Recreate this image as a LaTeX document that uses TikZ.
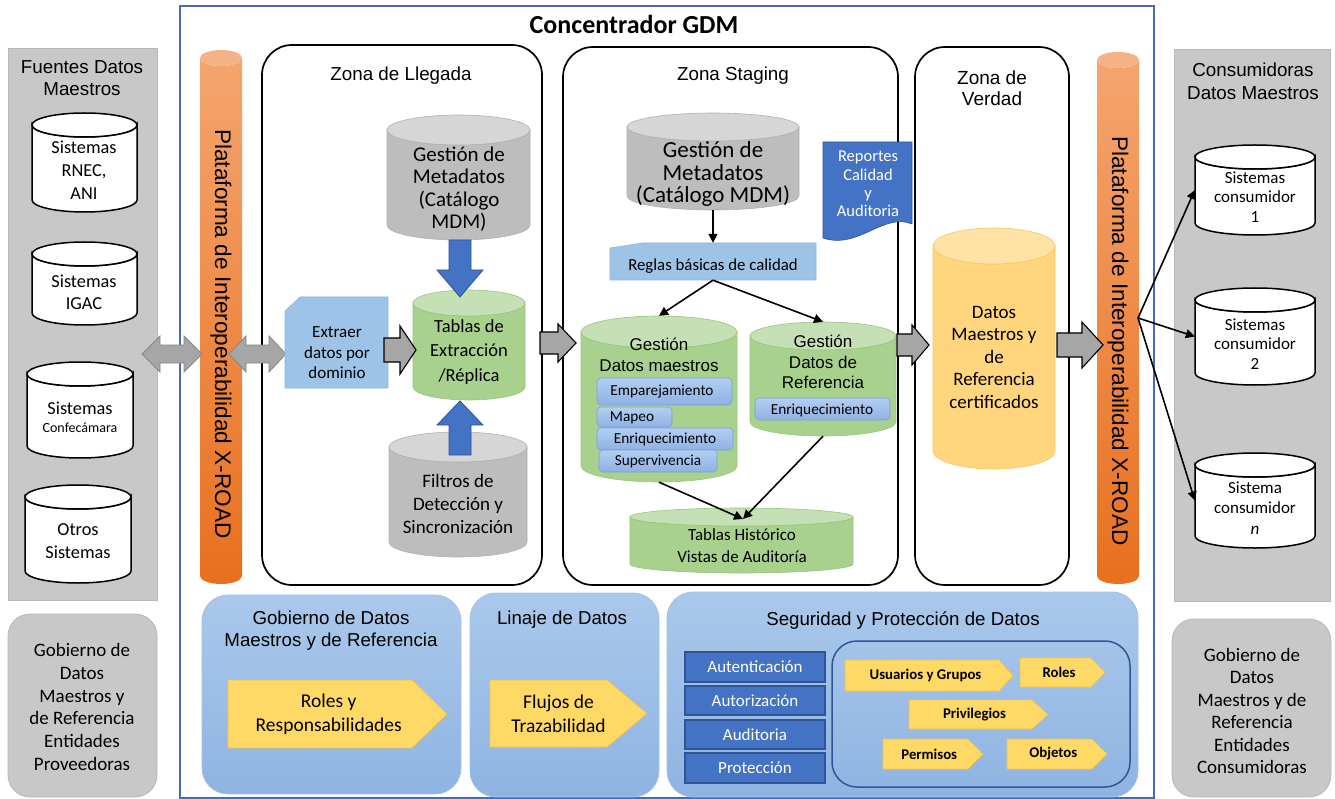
\documentclass[tikz,border=0pt]{standalone}
\usepackage{fontspec}
\setmainfont{Carlito}
\newfontfamily\arialf{Liberation Sans}
\usetikzlibrary{arrows.meta,fit}

\definecolor{panelgray}{HTML}{C8C8C8}
\definecolor{panelline}{HTML}{B8B8B8}
\definecolor{frameblue}{HTML}{4A6BAF}
\definecolor{cylgray}{HTML}{BDBDBD}
\definecolor{cylgraytop}{HTML}{D6D6D6}
\definecolor{cylgrayline}{HTML}{B0B0B0}
\definecolor{cylgreen}{HTML}{A9D18E}
\definecolor{cylgreentop}{HTML}{C6E0B5}
\definecolor{cylgreenline}{HTML}{98C47C}
\definecolor{cylyel}{HTML}{FFD57E}
\definecolor{cylyeltop}{HTML}{FFE3A6}
\definecolor{cylyelline}{HTML}{F4C865}
\definecolor{orgtop}{HTML}{F4A56E}
\definecolor{orgbot}{HTML}{E8701F}
\definecolor{orglid}{HTML}{F6B287}
\definecolor{lblue}{HTML}{9DC3E6}
\definecolor{lblueline}{HTML}{8EB7DE}
\definecolor{paneltop}{HTML}{AAC8EB}
\definecolor{panelbot}{HTML}{8FB4E2}
\definecolor{panelline2}{HTML}{A3C1E7}
\definecolor{dblue}{HTML}{4472C4}
\definecolor{dblueline}{HTML}{2F5597}
\definecolor{tagfill}{HTML}{FFD966}
\definecolor{tagline}{HTML}{F2C24F}
\definecolor{chiptop}{HTML}{B3CEF1}
\definecolor{chipbot}{HTML}{8EB2E4}
\definecolor{chipline}{HTML}{7C9FD3}
\definecolor{arrgray}{HTML}{A6A6A6}
\definecolor{arrgrayline}{HTML}{858585}

\newcommand\fs[2]{\fontsize{#1}{#2}\selectfont}

% cylinder: name, x1, top, x2, bottom, lid half-height, body style, lid style
\newcommand\Cyl[8]{%
  \pgfmathsetmacro\cylcx{(#2+#4)/2}%
  \pgfmathsetmacro\cylrx{(#4-#2)/2}%
  \pgfmathsetmacro\cylyt{#3+#6}%
  \pgfmathsetmacro\cylyb{#5-#6}%
  \path[#7] (#2,\cylyt) -- (#2,\cylyb)
     arc[start angle=180,end angle=0,x radius=\cylrx,y radius=#6]
     -- (#4,\cylyt)
     arc[start angle=0,end angle=180,x radius=\cylrx,y radius=#6] -- cycle;
  \path[#8] (\cylcx,\cylyt) ellipse[x radius=\cylrx,y radius=#6];
  \node[fit={(#2,#3) (#4,#5)},inner sep=0pt] (#1) {};
}
% rectangle with cut top-left corner: name, x1, y1, x2, y2, cut dx, cut dy
\newcommand\Snip[7]{%
  \path[snipbox] (#2,{#3+#7}) -- ({#2+#6},#3) -- (#4,#3) -- (#4,#5) -- (#2,#5) -- cycle;
  \node[fit={(#2,#3) (#4,#5)},inner sep=0pt] (#1) {};
}
% pentagon tag: name, x1, y1, x2, y2, tip depth, font, text
\newcommand\Tag[8]{%
  \path[tagshape] (#2,#3) -- ({#4-#6},#3) -- (#4,{(#3+#5)/2}) -- ({#4-#6},#5) -- (#2,#5) -- cycle;
  \node[txt,font={#7}] (#1) at ({(#2+#4-#6/2)/2},{(#3+#5)/2}) {#8};
}
% block arrow to the right: x1, x2, yc, shaft half, head half, head length, style
\newcommand\RArrow[7]{%
  \path[#7] (#1,{#3-#4}) -- ({#2-#6},{#3-#4}) -- ({#2-#6},{#3-#5}) -- (#2,#3)
    -- ({#2-#6},{#3+#5}) -- ({#2-#6},{#3+#4}) -- (#1,{#3+#4}) -- cycle;
}
% double-headed block arrow
\newcommand\LRArrow[7]{%
  \path[#7] (#1,#3) -- ({#1+#6},{#3-#5}) -- ({#1+#6},{#3-#4}) -- ({#2-#6},{#3-#4})
    -- ({#2-#6},{#3-#5}) -- (#2,#3) -- ({#2-#6},{#3+#5}) -- ({#2-#6},{#3+#4})
    -- ({#1+#6},{#3+#4}) -- ({#1+#6},{#3+#5}) -- cycle;
}
% block arrow downwards (tip at y2): xc, y1, y2, shaft half, head half, head length, style
\newcommand\DArrow[7]{%
  \path[#7] ({#1-#4},#2) -- ({#1+#4},#2) -- ({#1+#4},{#3-#6}) -- ({#1+#5},{#3-#6})
    -- (#1,#3) -- ({#1-#5},{#3-#6}) -- ({#1-#4},{#3-#6}) -- cycle;
}
% block arrow upwards (tip at y1)
\newcommand\UArrow[7]{%
  \path[#7] ({#1-#4},#3) -- ({#1+#4},#3) -- ({#1+#4},{#2+#6}) -- ({#1+#5},{#2+#6})
    -- (#1,#2) -- ({#1-#5},{#2+#6}) -- ({#1-#4},{#2+#6}) -- cycle;
}

\begin{document}
\begin{tikzpicture}[x=1pt,y=-1pt,
  txt/.style={inner sep=0pt,align=center},
  zone/.style={draw=black,line width=1.7pt,rounded corners=30pt,fill=white,inner sep=0pt},
  graypanel/.style={fill=panelgray,draw=panelline,line width=0.8pt,inner sep=0pt},
  bluepanel/.style={top color=paneltop,bottom color=panelbot,draw=panelline2,line width=0.8pt,rounded corners=26pt,inner sep=0pt},
  srccyl/.style={fill=white,draw=black,line width=1.5pt},
  graycyl/.style={fill=cylgray,draw=cylgrayline,line width=0.6pt},
  graylid/.style={fill=cylgraytop,draw=cylgrayline,line width=0.6pt},
  greencyl/.style={fill=cylgreen,draw=cylgreenline,line width=0.6pt},
  greenlid/.style={fill=cylgreentop,draw=cylgreenline,line width=0.6pt},
  snipbox/.style={fill=lblue,draw=lblueline,line width=0.6pt},
  tagshape/.style={fill=tagfill,draw=tagline,line width=0.8pt},
  chip/.style={top color=chiptop,bottom color=chipbot,draw=chipline,line width=0.6pt,rounded corners=4pt,inner sep=0pt},
  secbox/.style={fill=dblue,draw=dblueline,line width=1.2pt,inner sep=0pt},
  grayarrow/.style={fill=arrgray,draw=arrgrayline,line width=0.8pt},
  blkarrow/.style={fill=arrgray,draw=black,line width=1.1pt,line join=miter},
  bluearrow/.style={fill=dblue,draw=dblueline,line width=0.8pt},
  conn/.style={-{Triangle[length=9pt,width=9pt]},line width=1.6pt}]

\useasboundingbox (0,0) rectangle (1335,799);
\fill[white] (0,0) rectangle (1335,799);

% ---------- outer frame of the hub ----------
\node[draw=frameblue,line width=1.6pt,fit={(180,6) (1154,798)},inner sep=0pt] (hub) {};
\node[txt,font=\bfseries\fs{26}{30}] (hubtitle) at (634,24) {Concentrador GDM};

% ---------- source side ----------
\node[graypanel,fit={(8,48) (157,600)}] (fuentes) {};
\node[txt,font=\arialf\fs{18.8}{22}] (fuentest) at (82,78) {Fuentes Datos\\Maestros};
\Cyl{src1}{32}{113}{137}{212}{12}{srccyl}{srccyl}
\node[txt,font=\fs{18.3}{23}] (src1t) at (84,170) {Sistemas\\RNEC,\\ANI};
\Cyl{src2}{32}{242}{137}{325}{12}{srccyl}{srccyl}
\node[txt,font=\fs{18.3}{22}] (src2t) at (84,292) {Sistemas\\IGAC};
\Cyl{src3}{27}{362}{133}{458}{12}{srccyl}{srccyl}
\node[txt,font=\fs{18.3}{20}] (src3t) at (80,408) {Sistemas};
\node[txt,font=\fs{14}{16}] (src3s) at (80,428) {Confecámara};
\Cyl{src4}{25}{485}{131}{583}{12}{srccyl}{srccyl}
\node[txt,font=\fs{18.3}{23}] (src4t) at (78,541) {Otros\\Sistemas};

\node[graypanel,rounded corners=22pt,fit={(8,614) (157,797)}] (govprov) {};
\node[txt,font=\fs{19}{22.8}] (govprovt) at (82,707)
  {Gobierno de\\Datos\\Maestros y\\de Referencia\\Entidades\\Proveedoras};

% ---------- consumer side ----------
\node[graypanel,fit={(1174,49) (1330,601)}] (consum) {};
\node[txt,font=\arialf\fs{18.8}{23}] (consumt) at (1253,81) {Consumidoras\\Datos Maestros};
\Cyl{cons1}{1195}{145}{1315}{235}{12}{srccyl}{srccyl}
\node[txt,font=\fs{17}{19.5}] (cons1t) at (1255,197) {Sistemas\\consumidor\\1};
\Cyl{cons2}{1195}{288}{1315}{385}{12}{srccyl}{srccyl}
\node[txt,font=\fs{17}{19.5}] (cons2t) at (1255,344) {Sistemas\\consumidor\\2};
\Cyl{consn}{1195}{453}{1315}{548}{12}{srccyl}{srccyl}
\node[txt,font=\fs{17}{20.5}] (consnt) at (1255,508) {Sistema\\consumidor\\\textit{n}};

\node[graypanel,rounded corners=22pt,fit={(1172,619) (1331,797)}] (govcons) {};
\node[txt,font=\fs{19}{22.5}] (govconst) at (1252,711)
  {Gobierno de\\Datos\\Maestros y de\\Referencia\\Entidades\\Consumidoras};

% ---------- zones ----------
\node[zone,fit={(262,45) (542,585)}] (llegada) {};
\node[txt,font=\arialf\fs{18.8}{22}] (llegadat) at (401,76) {Zona de Llegada};
\node[zone,fit={(563,47) (898,585)}] (staging) {};
\node[txt,font=\arialf\fs{18.8}{22}] (stagingt) at (733,76) {Zona Staging};
\node[zone,fit={(915,47) (1069,585)}] (verdad) {};
\node[txt,font=\arialf\fs{19}{21.5}] (verdadt) at (992,88) {Zona de\\Verdad};

% ---------- X-ROAD platforms ----------
\Cyl{xroadL}{200}{50}{242}{584}{8}{top color=orgtop,bottom color=orgbot}{fill=orglid}
\node[txt,rotate=-90,font=\arialf\fs{22.6}{26}] (xroadLt) at (221,334) {Plataforma de Interoperabilidad X-ROAD};
\Cyl{xroadR}{1097}{52}{1139}{584}{8}{top color=orgtop,bottom color=orgbot}{fill=orglid}
\node[txt,rotate=-90,font=\arialf\fs{22.6}{26}] (xroadRt) at (1118,341) {Plataforma de Interoperabilidad X-ROAD};

\LRArrow{142}{202}{354}{9}{18}{18}{grayarrow}
\LRArrow{229}{286}{354}{9}{18}{17}{grayarrow}

% ---------- landing zone ----------
\Cyl{metaA}{387}{115}{530}{240}{15}{graycyl}{graylid}
\node[txt,font=\fs{21}{22.5}] (metaAt) at (459,189) {Gestión de\\Metadatos\\(Catálogo\\MDM)};
\Cyl{tablas}{413}{290}{525}{400}{13}{greencyl}{greenlid}
\node[txt,font=\fs{18.5}{24.5}] (tablast) at (469,352) {Tablas de\\Extracción\\/Réplica};
\Cyl{filtros}{389}{432}{527}{557}{15}{graycyl}{graylid}
\node[txt,font=\fs{19}{23}] (filtrost) at (458,504) {Filtros de\\Detección y\\Sincronización};
\DArrow{460}{240}{297}{11}{23}{27}{bluearrow}
\UArrow{460}{401}{455}{11}{23}{24}{bluearrow}
\Snip{extraer}{285}{297}{388}{388}{15}{14}
\node[txt,font=\fs{17}{20.5}] (extraert) at (337,353) {Extraer\\datos por\\dominio};
\RArrow{384}{416}{350}{12}{24}{16}{blkarrow}

\RArrow{540}{576}{343}{11}{19}{18}{blkarrow}

% ---------- staging zone ----------
\Cyl{metaB}{627}{113}{799}{210}{14}{graycyl}{graylid}
\node[txt,font=\fs{23}{22.5}] (metaBt) at (713,174) {Gestión de\\Metadatos\\(Catálogo MDM)};
\Snip{reglas}{610}{243}{816}{280}{32}{5}
\node[txt,font=\fs{16.8}{18}] (reglast) at (713,266) {Reglas básicas de calidad};

\path[fill=dblue,draw=dblueline,line width=0.6pt] (823,142) -- (912,142) -- (912,224)
  .. controls (884,212) and (858,250) .. (823,238) -- cycle;
\node[txt,text=white,font=\fs{16.5}{18.3}] (reportes) at (868,184) {Reportes\\Calidad\\y\\Auditoria};

\Cyl{dm}{581}{316}{737}{482}{16}{greencyl}{greenlid}
\node[txt,font=\arialf\fs{17}{21}] (dmt) at (659,355) {Gestión\\Datos maestros};
\node[chip,fit={(597,378) (732,405)}] (chipA) {};
\node[txt,font=\fs{15.3}{17}] (chipAt) at (662,392) {Emparejamiento};
\node[chip,fit={(597,407) (672,427)}] (chipB) {};
\node[txt,font=\fs{15.3}{17}] (chipBt) at (632,418) {Mapeo};
\node[chip,fit={(597,428) (733,450)}] (chipC) {};
\node[txt,font=\fs{15.3}{17}] (chipCt) at (665,439) {Enriquecimiento};
\node[chip,fit={(599,450) (717,472)}] (chipD) {};
\node[txt,font=\fs{15.3}{17}] (chipDt) at (658,461) {Supervivencia};

\Cyl{ref}{750}{322}{896}{436}{14}{greencyl}{greenlid}
\node[txt,font=\arialf\fs{17}{20.5}] (reft) at (823,362) {Gestión\\Datos de\\Referencia};
\node[chip,fit={(755,398) (890,420)}] (chipE) {};
\node[txt,font=\fs{15.3}{17}] (chipEt) at (822,410) {Enriquecimiento};

\Cyl{hist}{630}{508}{853}{573}{9}{greencyl}{greenlid}
\node[txt,font=\fs{17}{22}] (histt) at (742,546) {Tablas Histórico\\Vistas de Auditoría};

\coordinate (histin) at (743,519);
\draw[conn] (metaB.south) -- (reglas.north);
\draw[conn] (reglas.south) -- (dm.north);
\draw[conn] (reglas.south) -- (ref.north);
\draw[conn] (dm.south) -- (histin);
\draw[conn] (ref.south) -- (histin);

\RArrow{897}{929}{345}{11}{20}{17}{blkarrow}

% ---------- truth zone ----------
\Cyl{gold}{933}{228}{1055}{469}{18}{fill=cylyel,draw=cylyelline,line width=0.6pt}{fill=cylyeltop,draw=cylyelline,line width=0.6pt}
\node[txt,font=\fs{19}{22.5}] (goldt) at (994,357) {Datos\\Maestros y\\de\\Referencia\\certificados};

\RArrow{1057}{1103}{345}{12}{23}{21}{blkarrow}

\coordinate (fan) at (1138,318);
\draw[conn] (fan) -- (cons1.west);
\draw[conn] (fan) -- (cons2.west);
\draw[conn] (fan) -- (consn.west);

% ---------- governance panels ----------
\node[bluepanel,fit={(202,595) (461,794)}] (gob) {};
\node[txt,font=\arialf\fs{18.7}{22}] (gobt) at (331,631) {Gobierno de Datos\\Maestros y de Referencia};
\Tag{roles}{228}{680}{447}{748}{35}{\fs{19.5}{24}}{Roles y\\Responsabilidades}

\node[bluepanel,fit={(470,593) (659,797)}] (linaje) {};
\node[txt,font=\arialf\fs{18.7}{22}] (linajet) at (562,620) {Linaje de Datos};
\Tag{flujos}{490}{680}{647}{747}{40}{\fs{19.5}{24}}{Flujos de\\Trazabilidad}

\node[bluepanel,fit={(667,592) (1138,797)}] (segur) {};
\node[txt,font=\arialf\fs{18.7}{22}] (segurt) at (903,621) {Seguridad y Protección de Datos};
\node[secbox,fit={(685,652) (825,682)}] (autent) {};
\node[txt,text=white,font=\fs{17}{18}] (autentt) at (autent) {Autenticación};
\node[secbox,fit={(685,686) (825,715)}] (autoriz) {};
\node[txt,text=white,font=\fs{17}{18}] (autorizt) at (autoriz) {Autorización};
\node[secbox,fit={(685,720) (825,749)}] (audit) {};
\node[txt,text=white,font=\fs{17}{18}] (auditt) at (audit) {Auditoria};
\node[secbox,fit={(685,753) (825,783)}] (protec) {};
\node[txt,text=white,font=\fs{17}{18}] (protect) at (protec) {Protección};

\node[draw=dblueline,line width=1.5pt,rounded corners=25pt,fit={(832,641) (1130,787)},inner sep=0pt] (access) {};
\Tag{usuarios}{845}{660}{1013}{691}{14}{\bfseries\fs{14.8}{16}}{Usuarios y Grupos}
\Tag{rolesB}{1020}{658}{1105}{687}{14}{\bfseries\fs{14.8}{16}}{Roles}
\Tag{privil}{909}{700}{1048}{729}{16}{\bfseries\fs{14.8}{16}}{Privilegios}
\Tag{permisos}{883}{739}{983}{769}{15}{\bfseries\fs{14.8}{16}}{Permisos}
\Tag{objetos}{1007}{739}{1107}{769}{15}{\bfseries\fs{14.8}{16}}{Objetos}

\end{tikzpicture}
\end{document}
